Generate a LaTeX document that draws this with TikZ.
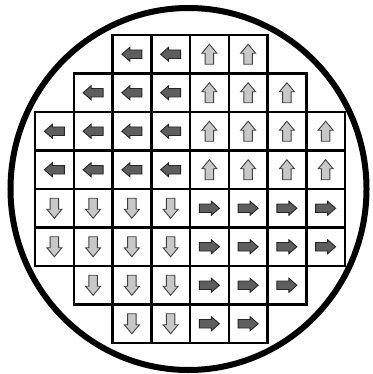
\documentclass[tikz,border=0pt]{standalone}
\usetikzlibrary{shapes.geometric}
\definecolor{darkfill}{HTML}{5E5E5E}
\definecolor{lightfill}{HTML}{C8C8C8}
\definecolor{lightedge}{HTML}{404040}
\begin{document}
\begin{tikzpicture}[x=1pt,y=-1pt,
  cell/.style={draw=black, line width=2.5pt, minimum width=38.75pt, minimum height=38.5pt, inner sep=0pt},
  pics/darkarrow/.style={code={\draw[fill=darkfill, draw=black!85, line width=0.9pt, line join=miter]
     (-10,-4.25) -- (2,-4.25) -- (2,-7) -- (10,0) -- (2,7) -- (2,4.25) -- (-10,4.25) -- cycle;}},
  pics/lightarrow/.style={code={\draw[fill=lightfill, draw=lightedge, line width=0.9pt, line join=miter]
     (-10,-4.25) -- (1,-4.25) -- (1,-7.5) -- (10,0) -- (1,7.5) -- (1,4.25) -- (-10,4.25) -- cycle;}}]
\useasboundingbox (0,0) rectangle (372,374);
\fill[white] (0,0) rectangle (372,374);
\foreach \r/\a/\b in {0/2/5,1/1/6,2/0/7,3/0/7,4/0/7,5/0/7,6/1/6,7/2/5} {
  \foreach \c in {\a,...,\b} {
    \pgfmathsetmacro{\cx}{35+38.75*(\c+0.5)}
    \pgfmathsetmacro{\cy}{35+38.5*(\r+0.5)}
    \node[cell] (cell-\r-\c) at (\cx,\cy) {};
  }
}
\foreach \r/\a/\b in {0/2/5,1/1/6,2/0/7,3/0/7,4/0/7,5/0/7,6/1/6,7/2/5} {
  \foreach \c in {\a,...,\b} {
    \ifnum\r<4
      \ifnum\c<4
        \pic[rotate=180] at (cell-\r-\c) {darkarrow};
      \else
        \pic[rotate=90] at (cell-\r-\c) {lightarrow};
      \fi
    \else
      \ifnum\c<4
        \pic[rotate=270] at (cell-\r-\c) {lightarrow};
      \else
        \pic at (cell-\r-\c) {darkarrow};
      \fi
    \fi
  }
}
\node[draw=black, line width=6pt, ellipse, minimum width=356pt, minimum height=362pt, inner sep=0pt] (wafer) at (188.5,189) {};
\end{tikzpicture}
\end{document}
